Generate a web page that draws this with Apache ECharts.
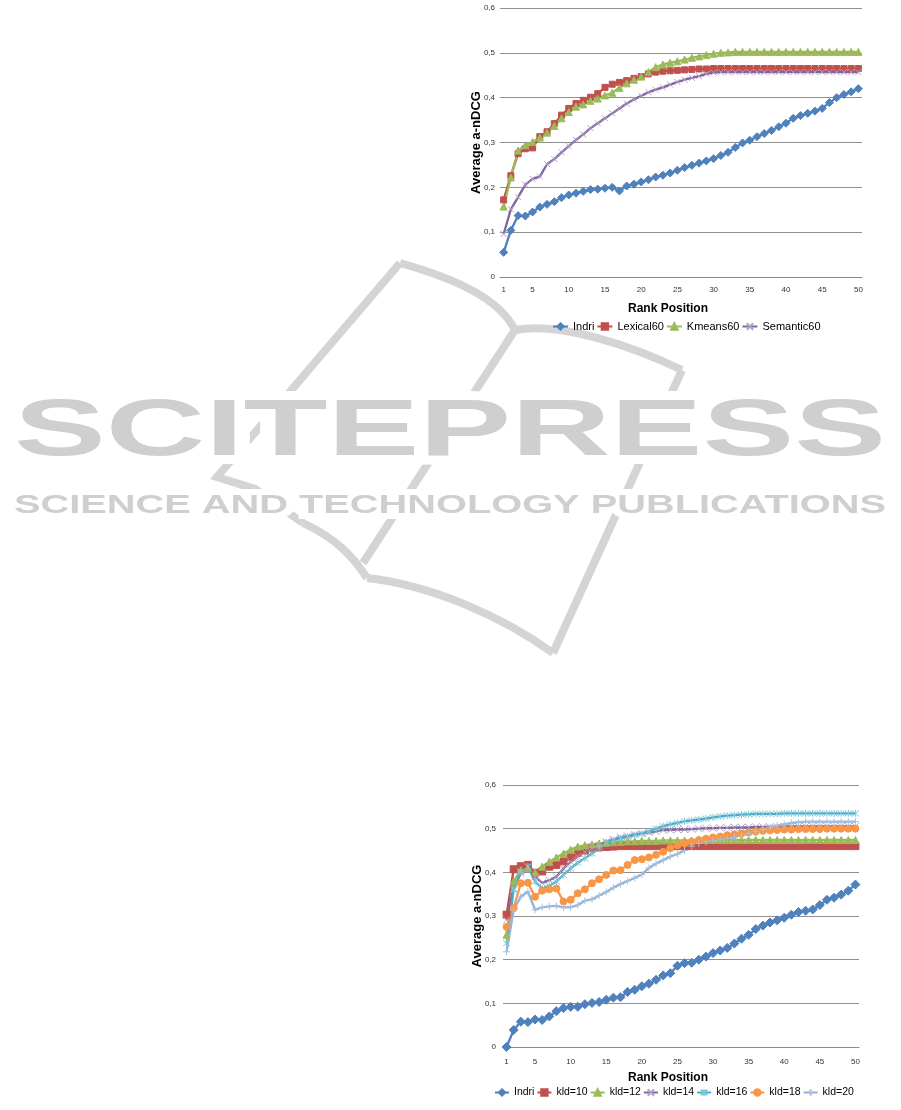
<!DOCTYPE html>
<html>
<head>
<meta charset="utf-8">
<script src="https://cdn.jsdelivr.net/npm/echarts@6/dist/echarts.min.js"></script>
<style>
html,body{margin:0;padding:0;background:#fff;}
#c{width:901px;height:1110px;}
</style>
</head>
<body>
<div id="c"></div>
<script>
// ---------- data ----------
const ranks = ['1','2','3','4','5','6','7','8','9','10','11','12','13','14','15','16','17','18','19','20','21','22','23','24','25','26','27','28','29','30','31','32','33','34','35','36','37','38','39','40','41','42','43','44','45','46','47','48','49','50'];
const yTicks = [0, 0.1, 0.2, 0.3, 0.4, 0.5, 0.6];

// Chart 1
const indriA = [0.055,0.104,0.137,0.136,0.145,0.156,0.162,0.168,0.177,0.183,0.187,0.191,0.195,0.196,0.198,0.200,0.192,0.203,0.207,0.212,0.217,0.223,0.227,0.232,0.238,0.244,0.249,0.254,0.259,0.264,0.271,0.278,0.289,0.299,0.305,0.313,0.320,0.327,0.335,0.343,0.354,0.360,0.365,0.370,0.376,0.389,0.400,0.407,0.413,0.420];
const lexical60 = [0.172,0.226,0.275,0.286,0.288,0.313,0.324,0.342,0.361,0.376,0.387,0.394,0.401,0.409,0.423,0.430,0.434,0.438,0.443,0.447,0.453,0.457,0.459,0.460,0.461,0.462,0.463,0.464,0.464,0.465,0.465,0.465,0.465,0.465,0.465,0.465,0.465,0.465,0.465,0.465,0.465,0.465,0.465,0.465,0.465,0.465,0.465,0.465,0.465,0.465];
const kmeans60 = [0.157,0.222,0.282,0.294,0.301,0.311,0.322,0.337,0.354,0.368,0.380,0.385,0.393,0.398,0.405,0.411,0.422,0.432,0.440,0.447,0.457,0.468,0.474,0.478,0.481,0.485,0.489,0.492,0.495,0.498,0.500,0.501,0.502,0.502,0.502,0.502,0.502,0.502,0.502,0.502,0.502,0.502,0.502,0.502,0.502,0.502,0.502,0.502,0.502,0.502];
const semantic60 = [0.096,0.151,0.178,0.206,0.219,0.224,0.252,0.263,0.278,0.292,0.306,0.318,0.332,0.343,0.354,0.365,0.376,0.387,0.396,0.404,0.412,0.418,0.423,0.429,0.435,0.440,0.444,0.448,0.453,0.456,0.457,0.457,0.457,0.457,0.457,0.457,0.457,0.457,0.457,0.457,0.457,0.457,0.457,0.457,0.457,0.457,0.457,0.457,0.457,0.457];

// Chart 2
const indriB = [0.000,0.039,0.058,0.057,0.063,0.062,0.070,0.082,0.089,0.092,0.092,0.098,0.101,0.103,0.108,0.113,0.114,0.126,0.131,0.139,0.145,0.154,0.164,0.169,0.186,0.192,0.193,0.200,0.207,0.215,0.221,0.227,0.237,0.248,0.257,0.270,0.278,0.285,0.290,0.296,0.303,0.309,0.312,0.315,0.325,0.337,0.342,0.349,0.358,0.372];
const kld10 = [0.303,0.407,0.414,0.417,0.399,0.402,0.413,0.417,0.425,0.435,0.445,0.450,0.455,0.457,0.458,0.459,0.460,0.460,0.460,0.460,0.460,0.460,0.460,0.460,0.460,0.460,0.460,0.460,0.460,0.460,0.460,0.460,0.460,0.460,0.460,0.460,0.460,0.460,0.460,0.460,0.460,0.460,0.460,0.460,0.460,0.460,0.460,0.460,0.460,0.460];
const kld12 = [0.257,0.380,0.405,0.410,0.400,0.413,0.424,0.434,0.443,0.452,0.459,0.462,0.464,0.466,0.468,0.469,0.470,0.471,0.471,0.472,0.472,0.472,0.473,0.473,0.473,0.473,0.473,0.474,0.474,0.474,0.474,0.474,0.474,0.474,0.474,0.474,0.474,0.474,0.474,0.474,0.474,0.474,0.474,0.474,0.474,0.474,0.474,0.474,0.474,0.474];
const kld14 = [0.291,0.363,0.398,0.413,0.390,0.376,0.382,0.390,0.409,0.424,0.436,0.447,0.455,0.462,0.470,0.475,0.480,0.483,0.487,0.489,0.491,0.494,0.497,0.497,0.498,0.498,0.499,0.500,0.501,0.501,0.502,0.502,0.503,0.503,0.503,0.504,0.504,0.504,0.504,0.505,0.505,0.505,0.505,0.505,0.505,0.505,0.505,0.505,0.505,0.505];
const kld16 = [0.238,0.360,0.402,0.413,0.379,0.363,0.369,0.379,0.394,0.409,0.422,0.432,0.443,0.456,0.468,0.474,0.478,0.481,0.485,0.489,0.494,0.500,0.506,0.510,0.513,0.517,0.519,0.521,0.523,0.526,0.528,0.530,0.531,0.532,0.533,0.534,0.534,0.534,0.534,0.535,0.535,0.535,0.535,0.535,0.535,0.535,0.535,0.535,0.535,0.535];
const kld18 = [0.275,0.318,0.375,0.376,0.344,0.358,0.361,0.363,0.333,0.337,0.352,0.361,0.375,0.384,0.394,0.404,0.405,0.417,0.428,0.430,0.434,0.440,0.447,0.455,0.462,0.466,0.470,0.474,0.477,0.480,0.482,0.485,0.487,0.489,0.491,0.493,0.495,0.496,0.497,0.498,0.498,0.499,0.499,0.499,0.499,0.500,0.500,0.500,0.500,0.500];
const kld20 = [0.218,0.314,0.344,0.356,0.314,0.320,0.322,0.323,0.320,0.320,0.325,0.335,0.338,0.347,0.355,0.365,0.373,0.380,0.387,0.395,0.410,0.420,0.428,0.436,0.442,0.450,0.460,0.466,0.470,0.473,0.476,0.478,0.481,0.485,0.488,0.493,0.498,0.503,0.507,0.510,0.513,0.515,0.516,0.516,0.516,0.516,0.516,0.516,0.516,0.516];

const legend1 = ['Indri','Lexical60','Kmeans60','Semantic60'];
const legend2 = ['Indri','kld=10','kld=12','kld=14','kld=16','kld=18','kld=20'];

// ---------- styling ----------
const NARROW = "'Liberation Sans Narrow','Arial Narrow','Liberation Sans',sans-serif";
const SYM_X = 'path://M0,0L10,10M10,0L0,10';
const SYM_AST = 'path://M0,0L10,10M10,0L0,10M5,-1L5,11';
const SYM_PLUS = 'path://M5,0L5,10M0,5L10,5';

function labelInterval(idx){ return idx === 0 || (idx + 1) % 5 === 0; }

function xAx(i){
  return {
    type:'category', gridIndex:i, data:ranks, boundaryGap:true,
    axisLine:{show:true, lineStyle:{color:'#8a8a8a', width:1}},
    axisTick:{show:false},
    splitLine:{show:false},
    axisLabel:{interval:labelInterval, fontSize:8, fontFamily:NARROW, color:'#333', margin: i ? 11 : 9},
    name:'Rank Position', nameLocation:'middle', nameGap: i ? 25 : 26, nameMoveOverlap:false,
    nameTextStyle:{fontFamily:NARROW, fontWeight:'bold', fontSize:12, color:'#000', padding:[0,26,0,0]}
  };
}
function yAx(i){
  return {
    type:'value', gridIndex:i, min:yTicks[0], max:yTicks[yTicks.length-1], interval:0.1,
    axisLine:{show:false}, axisTick:{show:false},
    splitLine:{show:true, lineStyle:{color:'#8f8f8f', width:1}},
    axisLabel:{fontSize:8, fontFamily:NARROW, color:'#333', margin: i ? 7 : 5,
      formatter:v => (Math.round(v*10)/10).toString().replace('.', ',')},
    name:'Average a-nDCG', nameLocation:'middle', nameGap: i ? 19 : 17, nameMoveOverlap:false,
    nameTextStyle:{fontFamily:"'Liberation Sans',Arial,sans-serif", fontWeight:'bold', fontSize:13, color:'#000'}
  };
}
function ser(i, name, data, color, symbol, size, symColor){
  return {
    type:'line', name:name, xAxisIndex:i, yAxisIndex:i, data:data,
    symbol:symbol, symbolSize:size, showAllSymbol:true,
    lineStyle:{width:2.3, color:color},
    itemStyle:{color:symColor || color, borderColor:symColor || color, borderWidth:1},
    emphasis:{disabled:true}, silent:true
  };
}

// ---------- watermark ----------
const WM = '#d4d4d4';
const WMFAM = 'Liberation Sans';
function measure(text, size){
  const ctx = document.createElement('canvas').getContext('2d');
  ctx.font = 'bold ' + size + 'px "' + WMFAM + '"'; return ctx.measureText(text).width;
}
const t1 = 'SCITEPRESS', t2 = 'SCIENCE AND TECHNOLOGY PUBLICATIONS';
const s1 = 872 / measure(t1, 80);
const s2 = 872 / measure(t2, 25);
function wmText(text, size, y, sx, fill, stroke, lw, z){
  return {type:'text', x:14, y:y, scaleX:sx, z:z, silent:true,
    style:{text:text, fontSize:size, fontWeight:'bold', fontFamily:WMFAM, fill:fill,
      stroke:stroke, lineWidth:lw, align:'left', verticalAlign:'middle'}};
}
function wmLine(points){
  return {type:'polyline', z:-3, silent:true, shape:{points:points}, style:{stroke:WM, lineWidth:8, fill:null}};
}
function wmCurve(x1,y1,c1x,c1y,c2x,c2y,x2,y2){
  return {type:'bezierCurve', z:-3, silent:true,
    shape:{x1:x1,y1:y1,cpx1:c1x,cpy1:c1y,cpx2:c2x,cpy2:c2y,x2:x2,y2:y2},
    style:{stroke:WM, lineWidth:8, fill:null}};
}
const graphics = [
  wmLine([[400,263],[217,477],[255,489],[303,523]]),
  wmCurve(303,523,335,538,352,555,367,578),
  wmCurve(367,578,430,585,500,615,553,653),
  wmLine([[553,653],[682,370]]),
  wmCurve(400,263,460,280,500,300,515,330),
  wmCurve(515,330,560,322,630,345,682,370),
  wmLine([[515,330],[363,563]]),
  wmText(t1, 80, 433, s1, '#fff', '#fff', 18, -2),
  wmText(t2, 25, 506, s2, '#fff', '#fff', 12, -2),
  wmText(t1, 80, 433, s1, '#cfcfcf', null, 0, -1),
  wmText(t2, 25, 506, s2, '#cfcfcf', null, 0, -1)
];

const legendText1 = {fontFamily:"'Liberation Sans',Arial,sans-serif", fontSize:11, color:'#000'};
const legendText2 = {fontFamily:"'Liberation Sans',Arial,sans-serif", fontSize:10.5, color:'#000'};

const option = {
  animation:false,
  backgroundColor:'#fff',
  graphic:{elements:graphics},
  grid:[
    {left:500, top:8, width:362, height:269, outerBoundsMode:'none'},
    {left:503, top:785, width:356, height:262, outerBoundsMode:'none'}
  ],
  xAxis:[xAx(0), xAx(1)],
  yAxis:[yAx(0), yAx(1)],
  legend:[
    {data:legend1, left:552, top:321, padding:0, itemWidth:15, itemHeight:8, itemGap:2, textStyle:legendText1, selectedMode:false},
    {data:legend2, left:494, top:1087, padding:0, itemWidth:14, itemHeight:8, itemGap:2, textStyle:legendText2, selectedMode:false}
  ],
  series:[
    ser(0,'Indri',indriA,'#4F81BD','diamond',8),
    ser(0,'Lexical60',lexical60,'#C0504D','rect',6),
    ser(0,'Kmeans60',kmeans60,'#9BBB59','triangle',7),
    ser(0,'Semantic60',semantic60,'#8064A2',SYM_X,6,'#B3A2C7'),
    ser(1,'Indri',indriB,'#4F81BD','diamond',9),
    ser(1,'kld=10',kld10,'#C0504D','rect',7),
    ser(1,'kld=12',kld12,'#9BBB59','triangle',7),
    ser(1,'kld=14',kld14,'#8064A2',SYM_X,7,'#B3A2C7'),
    ser(1,'kld=16',kld16,'#4BACC6',SYM_AST,7,'#7FC6DA'),
    ser(1,'kld=18',kld18,'#F79646','circle',7),
    ser(1,'kld=20',kld20,'#95B3D7',SYM_PLUS,7,'#A9C1E0')
  ]
};
const chart = echarts.init(document.getElementById('c'), null, {renderer:'canvas'});
chart.setOption(option);
</script>
</body>
</html>
